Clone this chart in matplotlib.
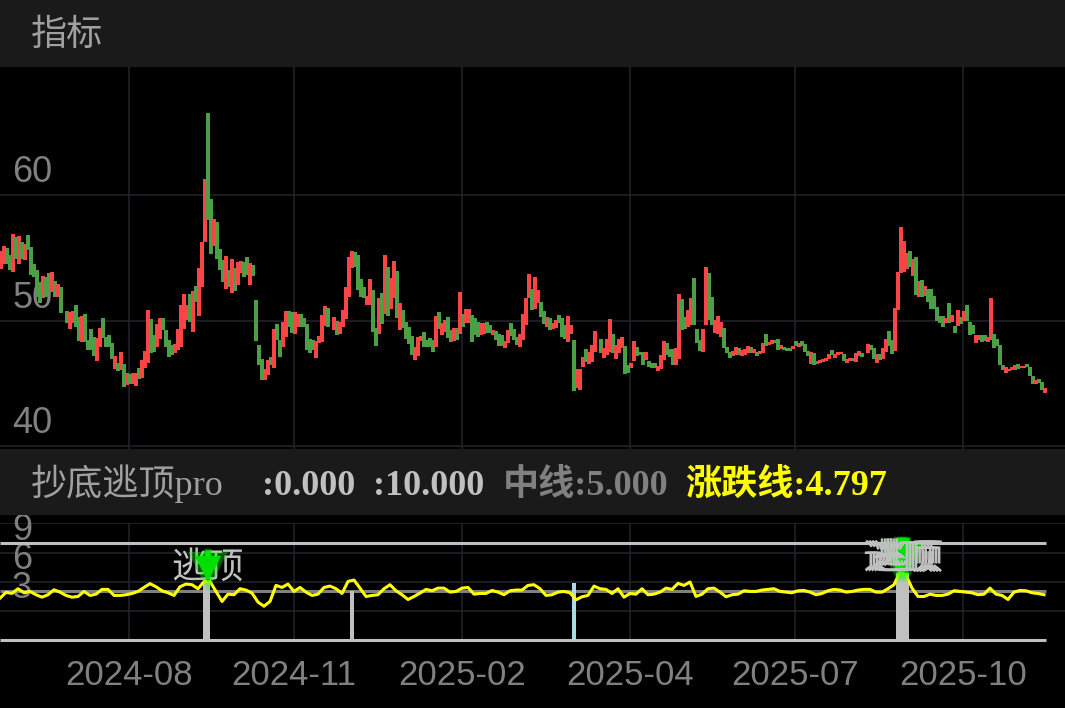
import numpy as np
import matplotlib
matplotlib.use("Agg")
import matplotlib.pyplot as plt
from matplotlib.patches import Rectangle
import matplotlib.patheffects as pe

W, H = 1065, 708
nan = np.nan

# candle bodies, upper and lower edge, R = up, G = down
tops = [
55.54,55.97,55.76,55.23,56.92,56.69,56.74,56.29,56.15,56.84,
55.89,54.51,54.03,53.10,53.58,53.50,53.77,53.90,53.18,52.97,
52.71,nan,50.77,50.72,50.77,51.25,50.32,50.40,50.58,48.46,
49.34,48.73,48.67,49.44,50.24,48.73,48.86,48.20,47.19,46.68,
47.53,46.60,45.81,45.76,45.81,45.81,46.21,46.92,47.59,50.85,
50.11,48.91,49.71,50.24,50.19,49.26,48.46,48.06,48.12,49.34,
51.25,52.10,51.25,52.12,52.36,52.76,54.24,56.26,61.25,66.50,
59.68,58.09,57.88,55.68,54.83,55.15,54.03,54.91,54.24,54.70,
54.78,54.70,55.04,54.62,54.43,51.64,48.06,47.00,46.13,46.92,
47.13,49.31,49.73,48.46,49.87,50.77,50.77,50.72,50.72,50.58,
50.53,50.19,49.71,48.59,48.46,48.41,48.81,50.45,51.17,51.06,
nan,50.27,50.00,49.87,50.90,52.71,55.09,55.57,55.49,55.23,
53.29,52.71,51.99,53.29,52.44,49.39,51.78,52.18,55.23,54.30,
53.37,54.75,53.95,51.43,50.85,49.87,49.47,48.78,47.88,48.73,
48.78,49.12,48.46,48.67,48.46,50.37,50.72,49.79,50.05,50.27,
49.26,49.39,49.39,52.31,50.58,50.93,50.93,50.50,50.19,49.92,
49.84,49.79,49.87,49.66,49.26,49.20,48.99,48.86,48.41,49.26,
49.79,49.34,48.73,48.94,50.53,51.78,53.71,52.57,53.50,52.49,
51.51,50.77,50.32,50.19,49.79,50.05,50.45,50.19,49.66,50.37,
49.66,48.46,46.15,46.15,47.13,47.75,47.53,48.06,49.18,nan,
48.59,47.80,48.59,50.13,48.99,48.06,48.59,48.73,47.98,46.52,
46.68,48.38,47.88,47.53,47.48,47.48,46.82,46.68,46.68,46.39,
47.27,48.38,48.20,47.72,47.75,47.80,52.10,51.72,50.27,50.90,
51.78,53.37,49.34,48.46,49.31,54.30,53.77,51.91,50.05,50.40,
49.87,49.39,47.93,47.53,47.61,47.88,47.80,47.67,47.72,47.98,
47.88,47.72,47.53,47.61,48.20,48.99,48.33,48.46,48.51,48.59,
48.06,47.93,47.80,47.85,47.98,48.41,48.20,48.38,48.12,47.61,
47.53,47.40,46.82,46.87,46.95,47.06,47.40,47.67,47.40,47.48,
47.48,47.40,46.95,47.08,47.06,47.45,47.59,47.40,nan,48.12,
48.06,47.80,47.40,47.40,47.85,48.59,49.18,48.46,51.03,53.90,
57.43,56.34,55.41,55.57,54.96,55.04,53.18,53.24,52.76,52.57,
52.52,51.96,51.11,50.40,50.37,50.24,51.43,50.45,49.60,50.85,
50.32,50.77,51.27,49.87,49.66,48.86,48.86,48.91,48.91,48.73,
51.78,48.94,48.59,48.06,46.52,46.29,46.13,46.29,46.47,46.55,
46.42,46.42,46.55,46.29,45.62,45.33,45.36,45.15,44.69,
]
bottoms = [
54.09,54.56,54.56,54.03,53.90,54.96,54.56,54.96,54.83,55.62,
53.63,53.50,51.91,51.38,51.78,51.91,52.18,52.31,51.91,51.86,
50.66,nan,49.84,49.34,49.79,49.52,48.41,48.33,48.33,47.67,
47.67,47.21,46.82,47.93,48.67,47.93,47.88,46.95,46.15,46.02,
46.07,44.75,44.93,45.01,45.01,44.83,45.41,45.46,46.21,46.66,
47.40,47.48,47.93,48.59,49.26,47.93,47.13,47.32,47.40,47.67,
47.93,49.31,50.05,49.92,49.12,51.46,50.40,52.71,56.29,58.01,
55.31,55.94,54.96,54.03,53.10,52.57,52.71,52.18,52.39,52.84,
53.77,53.50,53.63,52.89,53.56,48.41,46.47,45.33,45.33,45.68,
46.47,46.26,48.46,47.13,47.93,48.73,49.47,49.07,48.99,49.52,
49.47,49.47,47.67,47.40,47.67,47.06,48.20,48.33,49.58,49.52,
nan,49.26,48.91,48.99,49.47,50.11,51.91,54.17,54.30,52.44,
51.91,51.78,51.25,51.25,49.12,48.01,48.94,49.73,50.58,50.37,
50.98,51.78,50.19,49.26,49.39,48.59,48.14,47.32,46.87,47.19,
48.41,47.93,47.88,47.93,47.53,47.88,49.31,48.86,49.12,48.67,
48.33,48.41,48.51,48.94,49.52,49.79,49.79,48.33,48.86,48.73,
48.86,48.99,49.07,49.04,48.86,48.46,48.01,47.98,47.80,48.20,
48.78,48.51,48.06,47.93,48.46,49.66,51.78,50.90,50.98,51.43,
50.32,49.73,49.52,49.26,49.31,49.39,49.79,48.73,48.59,48.33,
48.94,44.40,44.69,44.48,46.29,46.74,46.55,46.74,47.53,nan,
47.45,47.08,47.27,47.53,47.40,46.95,47.40,47.80,45.73,45.86,
46.21,46.79,47.19,47.27,46.52,46.87,46.29,46.21,46.26,45.99,
46.15,46.87,47.27,47.13,46.52,46.47,47.00,49.26,49.34,49.52,
49.66,49.66,48.20,47.61,47.48,49.66,50.05,49.66,49.07,48.99,
48.73,47.80,47.40,47.06,47.19,47.27,47.32,47.21,47.27,47.40,
47.40,47.40,47.19,47.35,47.45,48.01,48.06,48.12,48.20,47.67,
47.72,47.67,47.59,47.61,47.72,47.98,47.93,47.98,47.53,47.19,
46.55,46.47,46.55,46.66,46.71,46.79,46.95,47.27,47.08,47.32,
47.35,46.82,46.68,46.79,46.82,46.74,47.19,47.13,nan,47.40,
47.67,46.95,46.66,46.87,46.95,47.53,47.98,47.35,47.61,50.85,
53.77,53.90,54.09,54.30,53.58,52.04,51.91,51.86,51.96,51.51,
50.98,50.98,50.00,49.79,49.47,49.79,49.79,49.87,49.04,49.60,
49.71,49.97,50.00,48.91,48.94,48.25,48.46,48.33,48.38,48.33,
48.51,47.80,47.98,46.47,46.07,45.81,46.02,46.07,46.07,46.13,
46.21,46.26,46.29,45.62,44.96,44.96,45.09,44.48,44.27,
]
dirs = (
"RRGGRGRGRG" "GGGGRGGRGR" "GGGRRGGRGG" "GGRRGGGGRG"
"RGRGRRGRRR" "GGRRGGGGRR" "RRRGRGRRRG" "GRGGGRGRGR"
"RGGRGGGGRR" "GRGGRRGGRR" "GGGGGRRRRG" "GRGRRRRRGG"
"GGRRGGRGRG" "RRGRGGGGRR" "RGGGGRGRRG" "GRGRGRRGGG"
"RRGGRGGGRR" "GGGRRRRGRR" "GGRGRRGGGR" "RGRRRGRRRG"
"GRRRGRRRGG" "RRGGGRGGGR" "RRGGGRRGGR" "RGGGRRGGRR"
"RGGGRRGRRR" "GRGRRGRRGG" "RGGGRGRGGG" "RGGRRRRGRR"
"RGRRGRRGGR" "GGRGRRGGRR" "RRRGRGRGRG" "GGGGGRGRGR"
"GRGGGRRGGR" "RGGGGRRRRG" "RRGGGRGGR"
)

# yellow line, read at every second candle
line_idx = np.arange(0, 349, 2)
updown = [
4.31,4.90,4.80,5.28,4.86,5.00,4.66,4.41,4.66,5.17,
4.93,4.59,4.41,4.48,5.00,4.59,4.72,5.21,5.21,4.59,
4.59,4.66,4.79,5.00,5.41,5.80,5.48,5.07,4.86,4.59,
5.48,5.76,5.69,5.28,6.00,6.03,5.00,3.97,4.72,4.66,
5.28,5.14,4.83,3.90,3.48,3.97,5.62,5.41,5.76,5.00,
5.41,4.93,4.59,4.72,5.41,5.55,5.28,4.79,6.03,6.17,
5.34,4.48,4.59,4.66,5.28,5.69,5.07,4.66,4.17,4.48,
4.83,5.21,5.07,5.34,5.34,4.93,5.00,5.34,5.41,4.72,
4.79,4.79,5.10,4.93,4.66,5.07,5.14,5.14,5.62,5.69,
5.28,4.59,4.66,4.93,5.00,4.86,4.14,4.45,4.59,5.55,
5.28,5.21,4.79,5.28,4.41,4.79,4.72,5.28,4.66,4.72,
4.93,5.34,5.21,5.83,5.62,5.97,4.48,4.72,5.28,5.34,
4.93,4.45,4.66,4.72,5.07,5.00,5.00,5.14,5.21,5.28,
5.00,4.93,4.86,5.07,5.10,4.93,4.66,4.79,5.07,5.21,
5.14,4.93,5.00,5.14,5.21,5.21,4.93,4.93,5.28,5.69,
7.00,6.70,5.34,4.48,4.48,4.72,4.59,4.59,4.72,5.07,
5.00,4.93,4.86,4.66,4.72,5.34,4.72,4.59,4.17,4.93,
5.10,5.07,4.86,4.79,4.66,
]

low_val = 0.0
high_val = 10.0
mid_val = 5.0

# signal bars
signal_idx = [68, 69, 117, 191, 299, 300, 301, 302]
signal_top = [6.2, 6.2, 5.0, 5.9, 6.9, 6.9, 6.9, 6.9]
signal_col = ["#c0c0c0", "#c0c0c0", "#c0c0c0", "#add8e6", "#c0c0c0", "#c0c0c0", "#c0c0c0", "#c0c0c0"]

# escape-top markers
mark_idx = [69, 299, 300, 301, 302]
arrow_top = [9.0, 10.2, 10.2, 10.2, 10.2]
arrow_tip = [6.2, 7.2, 7.2, 7.2, 7.2]
mark_base = [5.6, 6.5, 6.5, 6.5, 6.5]

tick_idx = [43, 98, 154, 210, 265, 321]
tick_labels = ["2024-08", "2024-11", "2025-02", "2025-04", "2025-07", "2025-10"]

GRID = "#24242c"
HEAD = "#1a1a1a"
GREY = "#808080"
CJK = ["Liberation Serif", "Noto Sans CJK SC"]
SANS = ["Liberation Sans", "Noto Sans CJK SC"]


def px_axes(top, bottom):
    return [0, 1 - bottom / H, 1, (bottom - top) / H]


fig = plt.figure(figsize=(W / 100, H / 100), dpi=100, facecolor="black")
for y0, y1 in [(0, 67), (449, 515)]:
    fig.add_artist(Rectangle((0, 1 - y1 / H), 1, (y1 - y0) / H, transform=fig.transFigure,
                             facecolor=HEAD, edgecolor="none"))

xlim = (0, W / 3)

# price panel
ax = fig.add_axes(px_axes(67, 449), facecolor="black")
ax.set_xlim(xlim)
ax.set_ylim(39.8, 70.2)
x = np.arange(len(tops)) + 0.3
top_arr = np.array(tops)
bot_arr = np.array(bottoms)
cols = ["#fb4444" if d == "R" else "#4ba045" for d in dirs]
ax.bar(x, top_arr - bot_arr, bottom=bot_arr, width=1.15, color=cols, linewidth=0, zorder=3)
ax.set_xticks(tick_idx)
ax.set_yticks([40, 50, 60])
ax.set_xticklabels([])
ax.set_yticklabels([])
ax.tick_params(length=0)
ax.grid(True, color=GRID, lw=1.1, zorder=0)
ax.set_axisbelow(True)
for s in ax.spines.values():
    s.set_visible(False)
for v in [40, 50, 60]:
    ax.annotate(str(v), (0, v), xycoords=("axes fraction", "data"), xytext=(12, 13),
                textcoords="offset pixels", color=GREY, fontsize=26, family=SANS, va="baseline", zorder=2)

# indicator panel
ax2 = fig.add_axes(px_axes(523.4, 641), facecolor="black")
ax2.set_xlim(xlim)
ax2.set_ylim(-0.1, 12)
ax2.set_xticks(tick_idx)
ax2.set_xticklabels(tick_labels, color=GREY, fontsize=25, family=SANS)
for lab in ax2.get_xticklabels():
    lab.set_x(lab.get_position()[0])
ax2.set_yticks([3, 6, 9, 12])
ax2.set_yticklabels([])
ax2.tick_params(length=0, pad=13)
ax2.grid(True, color=GRID, lw=1.1, zorder=0)
ax2.set_axisbelow(True)
for s in ax2.spines.values():
    s.set_visible(False)
for v in [3, 6, 9]:
    ax2.annotate(str(v), (0, v), xycoords=("axes fraction", "data"), xytext=(12, 13),
                 textcoords="offset pixels", color=GREY, fontsize=26, family=SANS, va="baseline",
                 annotation_clip=False, zorder=2)

ax2.hlines([high_val, low_val], 0, 348.7, color="#c0c0c0", lw=2.2, zorder=2, clip_on=False)
ax2.hlines(mid_val, 0, 348.7, color="#808080", lw=2.2, zorder=2)
ax2.bar(np.array(signal_idx) + 0.3, signal_top, width=1.1, color=signal_col, linewidth=0, zorder=3)
ax2.plot(line_idx, updown, color="#ffff00", lw=2.2, zorder=4, solid_joinstyle="round")


def draw_arrow(i, top, tip):
    glow = [pe.withStroke(linewidth=6, foreground="#00ff00", alpha=0.35)]
    ax2.plot([i + 0.3, i + 0.3], [top, tip + 1.2], color="#00e000", lw=4, zorder=5, path_effects=glow,
             clip_on=False)
    ax2.plot([i + 0.3], [tip + 1.1], marker="v", ms=19, color="#00e000", mec="none", zorder=5, path_effects=glow,
             clip_on=False)


draw_arrow(mark_idx[0], arrow_top[0], arrow_tip[0])
ax2.text(mark_idx[0], mark_base[0], "逃顶", color="#c0c0c0", fontsize=26, family=SANS, ha="center",
         va="bottom", zorder=4.5, clip_on=False)
for k in range(1, len(mark_idx)):
    draw_arrow(mark_idx[k], arrow_top[k], arrow_tip[k])
for k in range(1, len(mark_idx)):
    ax2.text(mark_idx[k] + 0.3, mark_base[k], "逃顶", color="#c0c0c0", fontsize=26, family=SANS, ha="center",
             va="bottom", zorder=6, clip_on=False)


# header texts
def head(px, py, s, color, weight="normal"):
    fig.text(px / W, 1 - py / H, s, color=color, fontsize=26, family=CJK, weight=weight, va="baseline")


head(31, 45, "指标", "#a0a0a0")
head(31, 495, "抄底逃顶pro", "#a0a0a0")
head(262, 495, ":0.000", "#c0c0c0", "bold")
head(373, 495, ":10.000", "#c0c0c0", "bold")
head(503, 495, "中线:5.000", GREY, "bold")
head(685, 495, "涨跌线:4.797", "#ffff00", "bold")

fig.savefig("out.png", dpi=100, facecolor="black")
